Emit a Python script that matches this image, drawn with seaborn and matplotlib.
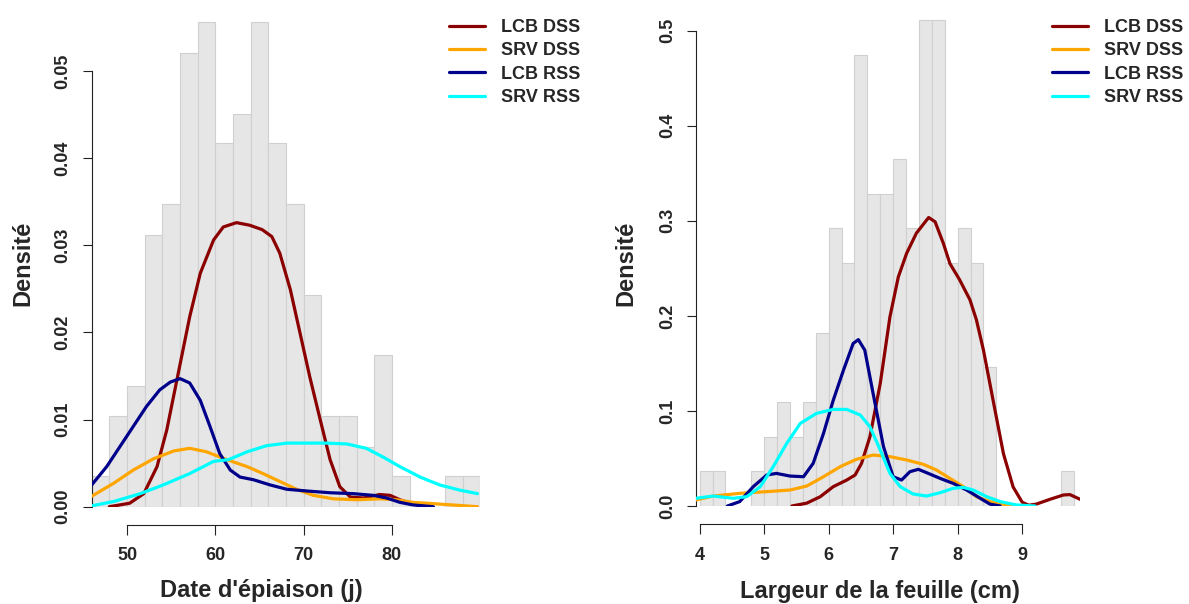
import numpy as np
import pandas as pd
import matplotlib
matplotlib.use("Agg")
import matplotlib.pyplot as plt
import seaborn as sns

# ---------------- data ----------------
# Left panel: heading date (days)
left_bin_edges = [46, 48, 50, 52, 54, 56, 58, 60, 62, 64, 66, 68, 70, 72, 74, 76, 78, 80, 82, 84, 86, 88, 90]
left_hist_density = [0.0035, 0.0104, 0.0139, 0.0312, 0.0347, 0.0521, 0.0556, 0.0417, 0.0451, 0.0556,
                     0.0417, 0.0347, 0.0243, 0.0104, 0.0104, 0.0069, 0.0174, 0.0035, 0.0, 0.0, 0.0035, 0.0035]

left_lcb_dss_x = [48.0, 50.3, 51.9, 53.4, 54.5, 55.8, 57.1, 58.3, 59.8, 60.9, 62.4, 63.9, 65.3, 66.4, 67.3,
                  68.5, 69.6, 70.7, 71.9, 73.0, 74.1, 75.3, 76.8, 78.6, 79.8, 80.9, 82.4, 84.0]
left_lcb_dss_y = [0.0, 0.0004, 0.0015, 0.0046, 0.0088, 0.0153, 0.0218, 0.0268, 0.0306, 0.0321, 0.0326, 0.0323,
                  0.0318, 0.0310, 0.0291, 0.0249, 0.0199, 0.0149, 0.0099, 0.0054, 0.0023, 0.0011, 0.0010,
                  0.0014, 0.0013, 0.0008, 0.0003, 0.0]

left_srv_dss_x = [46.0, 48.5, 50.7, 53.0, 55.3, 57.1, 59.0, 61.3, 63.6, 65.4, 67.3, 69.2, 71.1, 73.4, 76.0,
                  78.7, 80.5, 82.4, 85.4, 89.7]
left_srv_dss_y = [0.0012, 0.0027, 0.0042, 0.0055, 0.0064, 0.0067, 0.0063, 0.0054, 0.0046, 0.0038, 0.0029,
                  0.0020, 0.0013, 0.0009, 0.0008, 0.0009, 0.0008, 0.0005, 0.0003, 0.0]

left_lcb_rss_x = [46.0, 47.7, 49.2, 50.7, 52.2, 53.7, 54.9, 56.0, 57.1, 58.3, 59.4, 60.5, 61.7, 62.8, 64.3,
                  66.2, 68.1, 70.4, 73.0, 75.6, 77.9, 79.4, 80.9, 82.4, 84.7]
left_lcb_rss_y = [0.0025, 0.0046, 0.0069, 0.0092, 0.0115, 0.0134, 0.0143, 0.0147, 0.0142, 0.0122, 0.0092,
                  0.0061, 0.0042, 0.0034, 0.0031, 0.0025, 0.0020, 0.0018, 0.0016, 0.0015, 0.0013, 0.0010,
                  0.0005, 0.0002, 0.0]

left_srv_rss_x = [46.0, 48.5, 51.5, 54.1, 57.1, 59.8, 61.5, 63.6, 65.8, 68.1, 70.4, 72.6, 74.9, 77.1, 79.0,
                  80.9, 83.2, 85.4, 87.7, 89.7]
left_srv_rss_y = [0.0001, 0.0006, 0.0015, 0.0025, 0.0038, 0.0052, 0.0054, 0.0063, 0.0070, 0.0073, 0.0073,
                  0.0073, 0.0072, 0.0067, 0.0057, 0.0046, 0.0034, 0.0025, 0.0019, 0.0015]

# Right panel: leaf width (cm)
right_bin_edges = [4.0, 4.2, 4.4, 4.6, 4.8, 5.0, 5.2, 5.4, 5.6, 5.8, 6.0, 6.2, 6.4, 6.6, 6.8, 7.0, 7.2, 7.4,
                   7.6, 7.8, 8.0, 8.2, 8.4, 8.6, 8.8, 9.0, 9.2, 9.4, 9.6, 9.8]
right_hist_density = [0.0365, 0.0365, 0.0, 0.0, 0.0365, 0.073, 0.1095, 0.073, 0.1095, 0.1825, 0.292, 0.2555,
                      0.4745, 0.3285, 0.3285, 0.365, 0.292, 0.511, 0.511, 0.2555, 0.292, 0.2555, 0.146,
                      0.0, 0.0, 0.0, 0.0, 0.0, 0.0365]

right_lcb_dss_x = [5.43, 5.66, 5.87, 6.07, 6.28, 6.41, 6.51, 6.64, 6.80, 6.95, 7.08, 7.21, 7.36, 7.55, 7.65,
                   7.78, 7.88, 8.03, 8.19, 8.29, 8.40, 8.55, 8.71, 8.86, 9.0, 9.1, 9.22, 9.43, 9.64, 9.74, 9.9]
right_lcb_dss_y = [0.0, 0.003, 0.0098, 0.0203, 0.0273, 0.0326, 0.0449, 0.0729, 0.129, 0.199, 0.241, 0.266,
                   0.287, 0.3035, 0.299, 0.276, 0.255, 0.238, 0.217, 0.196, 0.164, 0.111, 0.055, 0.020,
                   0.004, 0.0008, 0.002, 0.007, 0.0116, 0.012, 0.007]

right_srv_dss_x = [3.94, 4.21, 4.62, 5.04, 5.40, 5.66, 5.92, 6.18, 6.43, 6.69, 6.95, 7.21, 7.47, 7.67, 7.88,
                   8.09, 8.29, 8.50, 8.76, 8.97]
right_srv_dss_y = [0.0063, 0.0105, 0.0133, 0.0151, 0.0168, 0.021, 0.0308, 0.0414, 0.0491, 0.0536, 0.0519,
                   0.0484, 0.0438, 0.0379, 0.029, 0.0203, 0.0098, 0.0046, 0.0011, 0.0]

right_lcb_rss_x = [4.43, 4.62, 4.83, 5.04, 5.19, 5.40, 5.61, 5.76, 5.92, 6.07, 6.23, 6.38, 6.46, 6.56, 6.69,
                   6.85, 7.0, 7.13, 7.26, 7.39, 7.52, 7.73, 7.93, 8.14, 8.35, 8.50, 8.66]
right_lcb_rss_y = [0.0, 0.0046, 0.0203, 0.0326, 0.0343, 0.0315, 0.0308, 0.0449, 0.0764, 0.111, 0.143, 0.171,
                   0.175, 0.164, 0.118, 0.0624, 0.0308, 0.0273, 0.0361, 0.0386, 0.035, 0.029, 0.0238,
                   0.0168, 0.0081, 0.002, 0.0]

right_srv_rss_x = [3.94, 4.21, 4.52, 4.73, 4.94, 5.14, 5.35, 5.56, 5.81, 6.07, 6.28, 6.49, 6.64, 6.80, 6.95,
                   7.11, 7.31, 7.52, 7.73, 7.93, 8.09, 8.24, 8.45, 8.66, 8.91, 9.20]
right_srv_rss_y = [0.0081, 0.0105, 0.0081, 0.0098, 0.0203, 0.0414, 0.0659, 0.0869, 0.0974, 0.1016, 0.1016,
                   0.0957, 0.0834, 0.0589, 0.0343, 0.0203, 0.0126, 0.0105, 0.014, 0.0186, 0.0196, 0.0168,
                   0.0098, 0.0046, 0.0011, 0.0]

series_labels = ["LCB DSS", "SRV DSS", "LCB RSS", "SRV RSS"]
series_colors = ["#8B0000", "#FFA500", "#00008B", "#00FFFF"]

left_xlabel = "Date d'épiaison (j)"
right_xlabel = "Largeur de la feuille (cm)"
ylabel = "Densité"
left_xticks = [50, 60, 70, 80]
left_yticks = [0.00, 0.01, 0.02, 0.03, 0.04, 0.05]
left_yticklabels = ["0.00", "0.01", "0.02", "0.03", "0.04", "0.05"]
right_xticks = [4, 5, 6, 7, 8, 9]
right_yticks = [0.0, 0.1, 0.2, 0.3, 0.4, 0.5]
right_yticklabels = ["0.0", "0.1", "0.2", "0.3", "0.4", "0.5"]

# ---------------- style ----------------
sns.set_style("ticks")
plt.rcParams["font.family"] = ["Liberation Sans", "DejaVu Sans"]
plt.rcParams["font.weight"] = "bold"
plt.rcParams["axes.labelweight"] = "bold"

W, H = 1189, 604
fig = plt.figure(figsize=(W / 100, H / 100), dpi=100)
ax1 = fig.add_axes([91.7 / W, (H - 506.7) / H, 388.5 / W, 506.7 / H])
ax2 = fig.add_axes([696 / W, (H - 506) / H, 384.2 / W, 506 / H])


def draw_panel(ax, edges, dens, curves, xlim, ylim, xticks, yticks, yticklabels, xlabel,
               xlab_pos, ylab_pos, leg_anchor):
    e = np.asarray(edges, dtype=float)
    hist_df = pd.DataFrame({"x": (e[:-1] + e[1:]) / 2, "w": dens})
    sns.histplot(data=hist_df, x="x", weights="w", bins=list(edges), stat="count", ax=ax,
                 color="#E6E6E6", edgecolor="#D0D0D0", linewidth=0.8, alpha=1.0, zorder=1)
    for (cx, cy), lab, col in zip(curves, series_labels, series_colors):
        df = pd.DataFrame({"x": cx, "y": cy})
        sns.lineplot(data=df, x="x", y="y", ax=ax, color=col, linewidth=2.3, label=lab,
                     estimator=None, sort=False, zorder=3)
    ax.set_xlim(*xlim)
    ax.set_ylim(*ylim)
    ax.set_xticks(xticks)
    ax.set_xticklabels([str(t) for t in xticks])
    ax.set_yticks(yticks)
    ax.set_yticklabels(yticklabels)
    for s in ["top", "right"]:
        ax.spines[s].set_visible(False)
    ax.spines["left"].set_bounds(yticks[0], yticks[-1])
    ax.spines["bottom"].set_bounds(xticks[0], xticks[-1])
    ax.spines["bottom"].set_position(("outward", 13))
    for s in ["left", "bottom"]:
        ax.spines[s].set_linewidth(0.8)
        ax.spines[s].set_color("#222222")
    ax.tick_params(axis="x", length=7.2, width=0.8, pad=9, labelsize=13, color="#222222")
    ax.tick_params(axis="y", length=6.5, width=0.8, pad=8, labelsize=13, color="#222222",
                   labelrotation=90)
    for t in ax.get_yticklabels():
        t.set_verticalalignment("center")
    ax.set_xlabel(xlabel, fontsize=17, fontweight="bold")
    ax.set_ylabel(ylabel, fontsize=17, fontweight="bold")
    ax.xaxis.set_label_coords(*xlab_pos)
    ax.yaxis.set_label_coords(*ylab_pos)
    ax.grid(False)
    handles, labels = ax.get_legend_handles_labels()
    leg = ax.legend(handles, labels, loc="upper left", bbox_to_anchor=leg_anchor,
                    bbox_transform=fig.transFigure, frameon=False, fontsize=13,
                    handlelength=2.0, handletextpad=0.9, labelspacing=0.35,
                    borderpad=0, borderaxespad=0)
    for line in leg.get_lines():
        line.set_linewidth(2.3)


draw_panel(ax1, left_bin_edges, left_hist_density,
           [(left_lcb_dss_x, left_lcb_dss_y), (left_srv_dss_x, left_srv_dss_y),
            (left_lcb_rss_x, left_lcb_rss_y), (left_srv_rss_x, left_srv_rss_y)],
           (46, 90), (0, 0.05815), left_xticks, left_yticks, left_yticklabels, left_xlabel,
           (0.436, -0.142), (-0.1485, 0.481), (449 / W, 1 - 19 / H))

draw_panel(ax2, right_bin_edges, right_hist_density,
           [(right_lcb_dss_x, right_lcb_dss_y), (right_srv_dss_x, right_srv_dss_y),
            (right_lcb_rss_x, right_lcb_rss_y), (right_srv_rss_x, right_srv_rss_y)],
           (3.943, 9.9), (0, 0.5323), right_xticks, right_yticks, right_yticklabels, right_xlabel,
           (0.479, -0.147), (-0.1536, 0.48), (1052 / W, 1 - 19 / H))

fig.savefig("out.png", dpi=100)
